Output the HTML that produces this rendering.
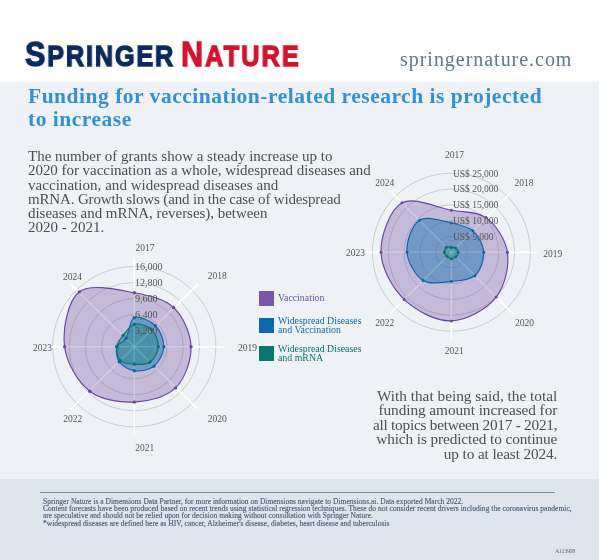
<!DOCTYPE html>
<html>
<head>
<meta charset="utf-8">
<style>
  html, body { margin: 0; padding: 0; }
  body { -webkit-font-smoothing: antialiased; width: 600px; height: 560px; position: relative; overflow: hidden; background: #ffffff; font-family: "Liberation Serif", serif; }
  .abs { position: absolute; white-space: nowrap; will-change: transform; }
  #main { position: absolute; left: 0; top: 82px; width: 599px; height: 397px; background: #eef2f6; }
  #foot { position: absolute; left: 0; top: 479px; width: 599px; height: 81px; background: #dfe5ed; }
  .logo { font-family: "Liberation Sans", sans-serif; font-weight: bold; -webkit-text-stroke: 1.3px currentColor; }
  .h1 { font-weight: bold; font-size: 21.5px; color: #3490d3; line-height: 23px; letter-spacing: 0.51px; }
  .p { font-size: 15px; color: #4b4f55; line-height: 14.3px; }
  .pr { font-size: 15.3px; color: #4b4f55; line-height: 14.4px; text-align: right; }
  svg text { font-family: "Liberation Serif", serif; }
  .rl { font-size: 9.5px; fill: #555555; }
  .rll { font-size: 10.1px; }
  .halo { stroke: #eef2f6; stroke-width: 2.5px; paint-order: stroke; stroke-linejoin: round; }
  .yl { font-size: 9.5px; fill: #555555; }
  .lg { font-size: 9.85px; line-height: 9px; }
  .ft { font-size: 7.5px; color: #4a5e78; line-height: 7.2px; letter-spacing: 0.02px; -webkit-text-stroke: 0.15px #4a5e78; }
</style>
</head>
<body>
<!-- header -->
<div class="abs logo" style="left:25px; top:36px; color:#0c2a5b; font-size:35px; line-height:36px; letter-spacing:2.0px; transform:scaleX(0.875); transform-origin:0 0;">S<span style="font-size:29px">PRINGER</span></div>
<div class="abs logo" style="left:181px; top:36px; color:#d2142e; font-size:35px; line-height:36px; letter-spacing:2.3px; transform:scaleX(0.875); transform-origin:0 0;">N<span style="font-size:29px">ATURE</span></div>
<div class="abs" style="left:399.5px; top:48px; font-size:20px; line-height:22px; letter-spacing:0.97px; color:#5b7894;">springernature.com</div>

<div id="main"></div>
<div id="foot"></div>

<!-- heading -->
<div class="abs h1" style="left:27.6px; top:85px;">Funding for vaccination-related research is projected<br>to increase</div>

<!-- left paragraph -->
<div class="abs p" style="left:27.6px; top:148.6px;">The number of grants show a steady increase up to<br><span style="letter-spacing:-0.045px">2020 for vaccination as a whole, widespread diseases and</span><br><span style="letter-spacing:0.04px">vaccination, and widespread diseases and</span><br><span style="letter-spacing:-0.16px">mRNA. Growth slows (and in the case of widespread</span><br><span style="letter-spacing:-0.035px">diseases and mRNA, reverses), between</span><br>2020 - 2021.</div>

<!-- charts -->
<svg class="abs" style="left:0; top:0;" width="600" height="560" viewBox="0 0 600 560">
<ellipse cx="134.30" cy="346.70" rx="16.32" ry="16.04" fill="none" stroke="#c9c6c3" stroke-width="0.9"/>
<ellipse cx="134.30" cy="346.70" rx="32.64" ry="32.08" fill="none" stroke="#c9c6c3" stroke-width="0.9"/>
<ellipse cx="134.30" cy="346.70" rx="48.96" ry="48.12" fill="none" stroke="#c9c6c3" stroke-width="0.9"/>
<ellipse cx="134.30" cy="346.70" rx="65.28" ry="64.16" fill="none" stroke="#c9c6c3" stroke-width="0.9"/>
<ellipse cx="134.30" cy="346.70" rx="81.60" ry="80.20" fill="none" stroke="#c9c6c3" stroke-width="0.9"/>
<line x1="134.30" y1="346.70" x2="134.30" y2="258.20" stroke="#ffffff" stroke-width="1.5"/>
<line x1="134.30" y1="346.70" x2="198.08" y2="284.12" stroke="#ffffff" stroke-width="1.5"/>
<line x1="134.30" y1="346.70" x2="224.50" y2="346.70" stroke="#ffffff" stroke-width="1.5"/>
<line x1="134.30" y1="346.70" x2="198.08" y2="409.28" stroke="#ffffff" stroke-width="1.5"/>
<line x1="134.30" y1="346.70" x2="134.30" y2="435.20" stroke="#ffffff" stroke-width="1.5"/>
<line x1="134.30" y1="346.70" x2="70.52" y2="409.28" stroke="#ffffff" stroke-width="1.5"/>
<line x1="134.30" y1="346.70" x2="44.10" y2="346.70" stroke="#ffffff" stroke-width="1.5"/>
<line x1="134.30" y1="346.70" x2="70.52" y2="284.12" stroke="#ffffff" stroke-width="1.5"/>
<path d="M134.30,292.80C148.73,295.54 164.11,298.58 173.54,307.46C183.10,316.44 190.60,333.38 191.00,346.70C191.40,360.19 185.02,378.69 175.52,387.92C166.08,397.11 148.40,401.46 134.30,402.10C119.85,402.75 101.31,399.87 89.82,391.18C77.69,381.99 66.63,362.75 64.60,346.70C62.46,329.77 67.59,300.73 79.43,291.83C91.06,283.08 117.78,289.66 134.30,292.80Z" fill="rgba(118,82,166,0.36)" stroke="none"/>
<path d="M134.30,317.70C139.19,315.56 150.39,320.88 155.30,325.70C160.24,330.53 164.09,339.88 163.80,346.70C163.52,353.41 158.99,362.31 153.89,366.29C149.00,370.09 140.23,371.64 134.30,370.70C128.76,369.82 122.08,365.99 119.24,361.76C116.59,357.82 115.60,350.71 117.00,346.70C118.26,343.11 123.36,342.13 125.96,338.36C129.45,333.27 129.43,319.83 134.30,317.70Z" fill="rgba(10,110,170,0.43)" stroke="none"/>
<path d="M134.30,324.20C139.10,323.01 147.42,325.89 151.41,329.59C155.46,333.34 158.62,341.20 158.30,346.70C157.99,352.08 154.06,359.37 149.86,362.26C145.90,364.97 139.32,364.60 134.30,364.30C129.48,364.01 123.23,363.63 120.30,360.70C117.37,357.77 116.12,351.00 116.70,346.70C117.25,342.64 120.41,339.10 123.13,335.53C126.14,331.56 129.78,325.32 134.30,324.20Z" fill="rgba(20,135,128,0.42)" stroke="none"/>
<line x1="134.30" y1="346.70" x2="134.30" y2="258.20" stroke="#ffffff" stroke-opacity="0.15" stroke-width="1.3"/>
<line x1="134.30" y1="346.70" x2="198.08" y2="284.12" stroke="#ffffff" stroke-opacity="0.15" stroke-width="1.3"/>
<line x1="134.30" y1="346.70" x2="224.50" y2="346.70" stroke="#ffffff" stroke-opacity="0.15" stroke-width="1.3"/>
<line x1="134.30" y1="346.70" x2="198.08" y2="409.28" stroke="#ffffff" stroke-opacity="0.15" stroke-width="1.3"/>
<line x1="134.30" y1="346.70" x2="134.30" y2="435.20" stroke="#ffffff" stroke-opacity="0.15" stroke-width="1.3"/>
<line x1="134.30" y1="346.70" x2="70.52" y2="409.28" stroke="#ffffff" stroke-opacity="0.15" stroke-width="1.3"/>
<line x1="134.30" y1="346.70" x2="44.10" y2="346.70" stroke="#ffffff" stroke-opacity="0.15" stroke-width="1.3"/>
<line x1="134.30" y1="346.70" x2="70.52" y2="284.12" stroke="#ffffff" stroke-opacity="0.15" stroke-width="1.3"/>
<path d="M134.30,292.80C148.73,295.54 164.11,298.58 173.54,307.46C183.10,316.44 190.60,333.38 191.00,346.70C191.40,360.19 185.02,378.69 175.52,387.92C166.08,397.11 148.40,401.46 134.30,402.10C119.85,402.75 101.31,399.87 89.82,391.18C77.69,381.99 66.63,362.75 64.60,346.70C62.46,329.77 67.59,300.73 79.43,291.83C91.06,283.08 117.78,289.66 134.30,292.80Z" fill="none" stroke="#6c44a2" stroke-width="1.15"/>
<circle cx="134.30" cy="292.80" r="1.70" fill="#6c44a2"/>
<circle cx="173.54" cy="307.46" r="1.70" fill="#6c44a2"/>
<circle cx="191.00" cy="346.70" r="1.70" fill="#6c44a2"/>
<circle cx="175.52" cy="387.92" r="1.70" fill="#6c44a2"/>
<circle cx="134.30" cy="402.10" r="1.70" fill="#6c44a2"/>
<circle cx="89.82" cy="391.18" r="1.70" fill="#6c44a2"/>
<circle cx="64.60" cy="346.70" r="1.70" fill="#6c44a2"/>
<circle cx="79.43" cy="291.83" r="1.70" fill="#6c44a2"/>
<path d="M134.30,317.70C139.19,315.56 150.39,320.88 155.30,325.70C160.24,330.53 164.09,339.88 163.80,346.70C163.52,353.41 158.99,362.31 153.89,366.29C149.00,370.09 140.23,371.64 134.30,370.70C128.76,369.82 122.08,365.99 119.24,361.76C116.59,357.82 115.60,350.71 117.00,346.70C118.26,343.11 123.36,342.13 125.96,338.36C129.45,333.27 129.43,319.83 134.30,317.70Z" fill="none" stroke="#0b67aa" stroke-width="1.15"/>
<circle cx="134.30" cy="317.70" r="1.70" fill="#0b67aa"/>
<circle cx="155.30" cy="325.70" r="1.70" fill="#0b67aa"/>
<circle cx="163.80" cy="346.70" r="1.70" fill="#0b67aa"/>
<circle cx="153.89" cy="366.29" r="1.70" fill="#0b67aa"/>
<circle cx="134.30" cy="370.70" r="1.70" fill="#0b67aa"/>
<circle cx="119.24" cy="361.76" r="1.70" fill="#0b67aa"/>
<circle cx="117.00" cy="346.70" r="1.70" fill="#0b67aa"/>
<circle cx="125.96" cy="338.36" r="1.70" fill="#0b67aa"/>
<path d="M134.30,324.20C139.10,323.01 147.42,325.89 151.41,329.59C155.46,333.34 158.62,341.20 158.30,346.70C157.99,352.08 154.06,359.37 149.86,362.26C145.90,364.97 139.32,364.60 134.30,364.30C129.48,364.01 123.23,363.63 120.30,360.70C117.37,357.77 116.12,351.00 116.70,346.70C117.25,342.64 120.41,339.10 123.13,335.53C126.14,331.56 129.78,325.32 134.30,324.20Z" fill="none" stroke="#0b7268" stroke-width="1.15"/>
<circle cx="134.30" cy="324.20" r="1.70" fill="#0b7268"/>
<circle cx="151.41" cy="329.59" r="1.70" fill="#0b7268"/>
<circle cx="158.30" cy="346.70" r="1.70" fill="#0b7268"/>
<circle cx="149.86" cy="362.26" r="1.70" fill="#0b7268"/>
<circle cx="134.30" cy="364.30" r="1.70" fill="#0b7268"/>
<circle cx="120.30" cy="360.70" r="1.70" fill="#0b7268"/>
<circle cx="116.70" cy="346.70" r="1.70" fill="#0b7268"/>
<circle cx="123.13" cy="335.53" r="1.70" fill="#0b7268"/>
<text x="134.90" y="334.06" class="rl rll">3,200</text>
<text x="134.90" y="318.02" class="rl rll">6,400</text>
<text x="134.90" y="301.98" class="rl rll">9,600</text>
<text x="134.90" y="285.94" class="rl rll">12,800</text>
<text x="134.90" y="269.90" class="rl rll">16,000</text>
<text x="135.40" y="250.80" class="yl">2017</text>
<text x="207.70" y="279.30" class="yl">2018</text>
<text x="237.90" y="350.90" class="yl">2019</text>
<text x="207.70" y="421.90" class="yl">2020</text>
<text x="135.30" y="451.30" class="yl">2021</text>
<text x="63.20" y="421.90" class="yl">2022</text>
<text x="32.90" y="350.90" class="yl">2023</text>
<text x="62.90" y="279.80" class="yl">2024</text>
<circle cx="451.40" cy="252.20" r="15.80" fill="none" stroke="#c9c6c3" stroke-width="0.9"/>
<circle cx="451.40" cy="252.20" r="31.60" fill="none" stroke="#c9c6c3" stroke-width="0.9"/>
<circle cx="451.40" cy="252.20" r="47.40" fill="none" stroke="#c9c6c3" stroke-width="0.9"/>
<circle cx="451.40" cy="252.20" r="63.20" fill="none" stroke="#c9c6c3" stroke-width="0.9"/>
<circle cx="451.40" cy="252.20" r="79.00" fill="none" stroke="#c9c6c3" stroke-width="0.9"/>
<line x1="451.40" y1="252.20" x2="512.78" y2="190.82" stroke="#ffffff" stroke-width="1.5"/>
<line x1="451.40" y1="252.20" x2="538.20" y2="252.20" stroke="#ffffff" stroke-width="1.5"/>
<line x1="451.40" y1="252.20" x2="512.78" y2="313.58" stroke="#ffffff" stroke-width="1.5"/>
<line x1="451.40" y1="252.20" x2="451.40" y2="339.00" stroke="#ffffff" stroke-width="1.5"/>
<line x1="451.40" y1="252.20" x2="390.02" y2="313.58" stroke="#ffffff" stroke-width="1.5"/>
<line x1="451.40" y1="252.20" x2="364.60" y2="252.20" stroke="#ffffff" stroke-width="1.5"/>
<line x1="451.40" y1="252.20" x2="390.02" y2="190.82" stroke="#ffffff" stroke-width="1.5"/>
<path d="M451.40,210.20C463.99,212.49 476.80,211.16 485.98,217.62C495.82,224.56 505.41,239.47 507.40,252.20C509.52,265.77 505.09,285.68 496.23,297.03C486.94,308.93 466.66,320.42 451.40,320.90C435.98,321.38 415.89,310.82 404.17,299.43C392.36,287.97 381.42,268.22 381.00,252.20C380.57,236.03 389.92,209.63 402.04,202.84C413.74,196.30 436.45,207.48 451.40,210.20Z" fill="rgba(118,82,166,0.36)" stroke="none"/>
<path d="M451.40,223.00C459.37,224.77 467.38,226.11 472.75,230.85C478.28,235.72 483.38,244.82 483.80,252.20C484.23,259.75 480.38,270.82 474.88,275.68C469.48,280.44 459.65,280.54 451.40,281.40C442.47,282.33 430.41,284.88 423.12,280.48C415.29,275.77 407.73,262.10 407.00,252.20C406.25,242.04 411.80,224.99 419.44,220.24C426.83,215.64 441.94,220.89 451.40,223.00Z" fill="rgba(10,110,170,0.43)" stroke="none"/>
<path d="M451.40,247.30C452.87,247.42 454.51,247.21 455.64,247.96C456.86,248.76 458.26,250.76 458.30,252.20C458.34,253.65 457.02,255.55 455.85,256.65C454.71,257.74 452.88,258.81 451.40,258.80C449.93,258.79 448.18,257.67 447.02,256.58C445.83,255.48 444.51,253.74 444.40,252.20C444.29,250.63 445.24,248.05 446.45,247.25C447.61,246.48 449.82,247.17 451.40,247.30Z" fill="rgba(20,135,128,0.42)" stroke="none"/>
<line x1="451.40" y1="252.20" x2="512.78" y2="190.82" stroke="#ffffff" stroke-opacity="0.15" stroke-width="1.3"/>
<line x1="451.40" y1="252.20" x2="538.20" y2="252.20" stroke="#ffffff" stroke-opacity="0.15" stroke-width="1.3"/>
<line x1="451.40" y1="252.20" x2="512.78" y2="313.58" stroke="#ffffff" stroke-opacity="0.15" stroke-width="1.3"/>
<line x1="451.40" y1="252.20" x2="451.40" y2="339.00" stroke="#ffffff" stroke-opacity="0.15" stroke-width="1.3"/>
<line x1="451.40" y1="252.20" x2="390.02" y2="313.58" stroke="#ffffff" stroke-opacity="0.15" stroke-width="1.3"/>
<line x1="451.40" y1="252.20" x2="364.60" y2="252.20" stroke="#ffffff" stroke-opacity="0.15" stroke-width="1.3"/>
<line x1="451.40" y1="252.20" x2="390.02" y2="190.82" stroke="#ffffff" stroke-opacity="0.15" stroke-width="1.3"/>
<path d="M451.40,210.20C463.99,212.49 476.80,211.16 485.98,217.62C495.82,224.56 505.41,239.47 507.40,252.20C509.52,265.77 505.09,285.68 496.23,297.03C486.94,308.93 466.66,320.42 451.40,320.90C435.98,321.38 415.89,310.82 404.17,299.43C392.36,287.97 381.42,268.22 381.00,252.20C380.57,236.03 389.92,209.63 402.04,202.84C413.74,196.30 436.45,207.48 451.40,210.20Z" fill="none" stroke="#6c44a2" stroke-width="1.15"/>
<circle cx="451.40" cy="210.20" r="1.50" fill="#6c44a2"/>
<circle cx="485.98" cy="217.62" r="1.50" fill="#6c44a2"/>
<circle cx="507.40" cy="252.20" r="1.50" fill="#6c44a2"/>
<circle cx="496.23" cy="297.03" r="1.50" fill="#6c44a2"/>
<circle cx="451.40" cy="320.90" r="1.50" fill="#6c44a2"/>
<circle cx="404.17" cy="299.43" r="1.50" fill="#6c44a2"/>
<circle cx="381.00" cy="252.20" r="1.50" fill="#6c44a2"/>
<circle cx="402.04" cy="202.84" r="1.50" fill="#6c44a2"/>
<path d="M451.40,223.00C459.37,224.77 467.38,226.11 472.75,230.85C478.28,235.72 483.38,244.82 483.80,252.20C484.23,259.75 480.38,270.82 474.88,275.68C469.48,280.44 459.65,280.54 451.40,281.40C442.47,282.33 430.41,284.88 423.12,280.48C415.29,275.77 407.73,262.10 407.00,252.20C406.25,242.04 411.80,224.99 419.44,220.24C426.83,215.64 441.94,220.89 451.40,223.00Z" fill="none" stroke="#0b67aa" stroke-width="1.15"/>
<circle cx="451.40" cy="223.00" r="1.50" fill="#0b67aa"/>
<circle cx="472.75" cy="230.85" r="1.50" fill="#0b67aa"/>
<circle cx="483.80" cy="252.20" r="1.50" fill="#0b67aa"/>
<circle cx="474.88" cy="275.68" r="1.50" fill="#0b67aa"/>
<circle cx="451.40" cy="281.40" r="1.50" fill="#0b67aa"/>
<circle cx="423.12" cy="280.48" r="1.50" fill="#0b67aa"/>
<circle cx="407.00" cy="252.20" r="1.50" fill="#0b67aa"/>
<circle cx="419.44" cy="220.24" r="1.50" fill="#0b67aa"/>
<path d="M451.40,247.30C452.87,247.42 454.51,247.21 455.64,247.96C456.86,248.76 458.26,250.76 458.30,252.20C458.34,253.65 457.02,255.55 455.85,256.65C454.71,257.74 452.88,258.81 451.40,258.80C449.93,258.79 448.18,257.67 447.02,256.58C445.83,255.48 444.51,253.74 444.40,252.20C444.29,250.63 445.24,248.05 446.45,247.25C447.61,246.48 449.82,247.17 451.40,247.30Z" fill="none" stroke="#0b7268" stroke-width="1.15"/>
<circle cx="451.40" cy="247.30" r="1.50" fill="#0b7268"/>
<circle cx="455.64" cy="247.96" r="1.50" fill="#0b7268"/>
<circle cx="458.30" cy="252.20" r="1.50" fill="#0b7268"/>
<circle cx="455.85" cy="256.65" r="1.50" fill="#0b7268"/>
<circle cx="451.40" cy="258.80" r="1.50" fill="#0b7268"/>
<circle cx="447.02" cy="256.58" r="1.50" fill="#0b7268"/>
<circle cx="444.40" cy="252.20" r="1.50" fill="#0b7268"/>
<circle cx="446.45" cy="247.25" r="1.50" fill="#0b7268"/>
<text x="452.90" y="239.70" class="rl">US$ 5,000</text>
<text x="452.90" y="223.90" class="rl">US$ 10,000</text>
<text x="452.90" y="208.10" class="rl">US$ 15,000</text>
<text x="452.90" y="192.30" class="rl">US$ 20,000</text>
<text x="452.90" y="176.50" class="rl">US$ 25,000</text>
<text x="445.00" y="157.70" class="yl">2017</text>
<text x="514.60" y="186.20" class="yl">2018</text>
<text x="543.20" y="256.50" class="yl">2019</text>
<text x="515.00" y="325.80" class="yl">2020</text>
<text x="444.80" y="354.10" class="yl">2021</text>
<text x="375.20" y="325.80" class="yl">2022</text>
<text x="346.00" y="256.10" class="yl">2023</text>
<text x="375.20" y="186.10" class="yl">2024</text>
</svg>

<!-- legend -->
<div class="abs" style="left:259px; top:291.4px; width:14.6px; height:14.6px; background:#7a57a8;"></div>
<div class="abs" style="left:259px; top:318.2px; width:14.6px; height:14.6px; background:#0a69aa;"></div>
<div class="abs" style="left:259px; top:345.7px; width:14.6px; height:14.6px; background:#0a756e;"></div>
<div class="abs lg" style="left:278px; top:293px; color:#6f4fa3;">Vaccination</div>
<div class="abs lg" style="left:278px; top:315.5px; color:#0f6aa8;">Widespread Diseases<br>and Vaccination</div>
<div class="abs lg" style="left:278px; top:343.7px; color:#0c746c;">Widespread Diseases<br>and mRNA</div>

<!-- right paragraph -->
<div class="abs pr" style="right:43px; top:389px;">With that being said, the total<br><span style="letter-spacing:-0.06px">funding amount increased for</span><br><span style="letter-spacing:-0.25px">all topics between 2017 - 2021,</span><br><span style="letter-spacing:-0.11px">which is predicted to continue</span><br><span style="letter-spacing:-0.125px">up to at least 2024.</span></div>

<!-- footer -->
<div class="abs" style="left:40px; top:491.5px; width:515px; height:1px; background:#7d8ca3;"></div>
<div class="abs ft" style="left:42.6px; top:497.8px;">Springer Nature is a Dimensions Data Partner, for more information on Dimensions navigate to Dimensions.ai. Data exported March 2022.<br><span style="letter-spacing:0.04px">Content forecasts have been produced based on recent trends using statistical regression techniques. These do not consider recent drivers including the coronavirus pandemic,</span><br>are speculative and should not be relied upon for decision making without consultation with Springer Nature.<br>*widespread diseases are defined here as HIV, cancer, Alzheimer's disease, diabetes, heart disease and tuberculosis</div>
<div class="abs" style="left:555px; top:547px; font-size:6px; letter-spacing:-0.3px; color:#666; line-height:8px;">A113908</div>
</body>
</html>
